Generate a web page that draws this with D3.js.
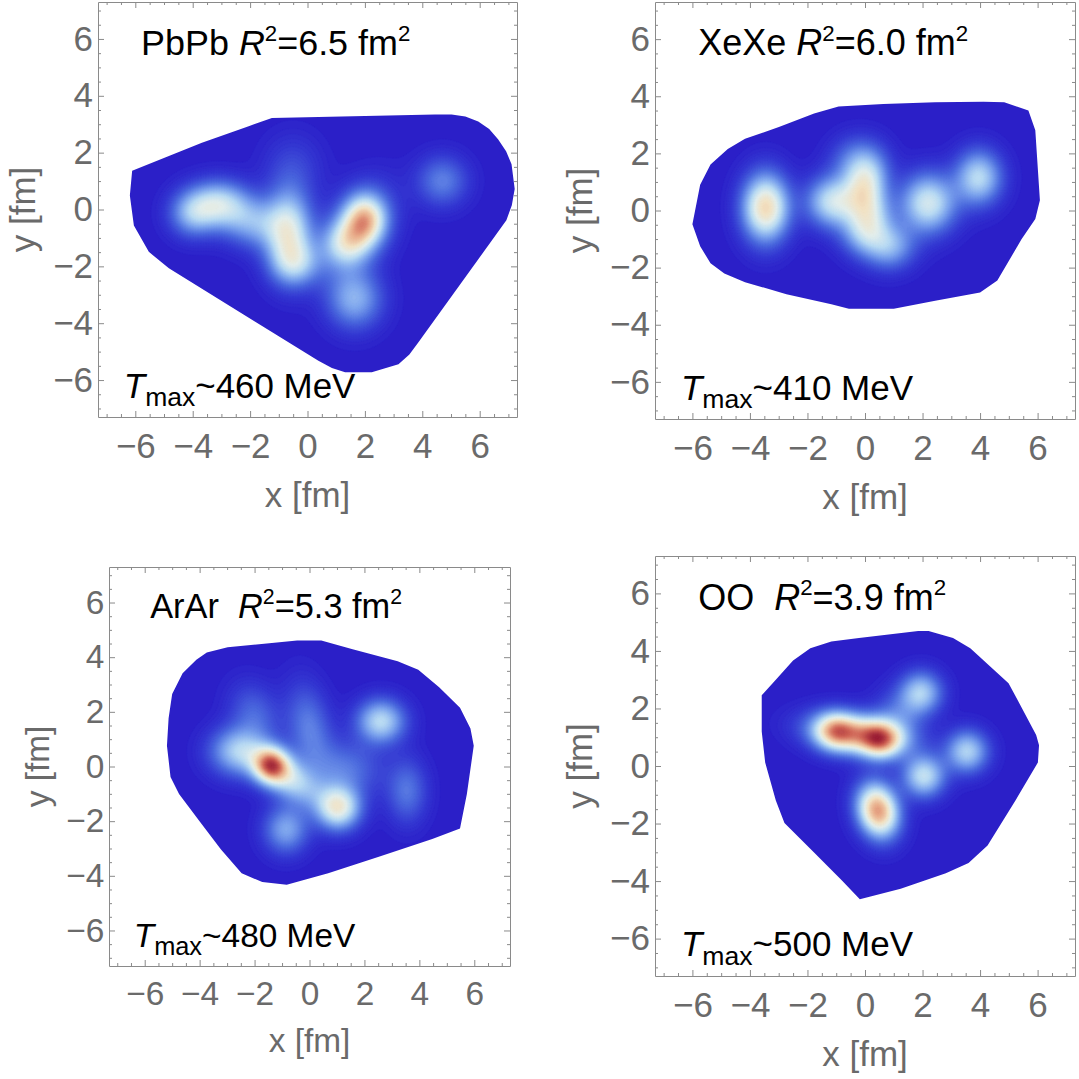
<!DOCTYPE html>
<html>
<head>
<meta charset="utf-8">
<script src="https://cdn.jsdelivr.net/npm/d3@7"></script>
<style>
  body { margin: 0; background: #fff; }
  svg { display: block; font-family: "Liberation Sans", Arial, sans-serif; }
  text { white-space: pre; }
</style>
</head>
<body>
<div id="chart"></div>
<script>
// hot spots, one row each: [x, y, sigmaX, sigmaY, angle (deg), amplitude], fm
const pbpbSpots = [
  [2.0, -0.35, 0.5, 0.6, 0, 0.5],
  [1.35, -1.2, 0.55, 0.55, 0, 0.3],
  [1.7, -0.75, 1.1, 0.7, 60, 0.25],
  [-0.65, -0.75, 0.55, 1.0, 0, 0.45],
  [-0.4, -1.9, 0.6, 0.55, 0, 0.28],
  [-3.1, 0.2, 0.7, 0.55, 0, 0.38],
  [-4.0, -0.15, 0.55, 0.55, 0, 0.28],
  [-1.9, -0.45, 0.8, 0.6, -15, 0.28],
  [1.65, -3.15, 0.65, 0.7, 0, 0.3],
  [4.7, 1.0, 0.6, 0.6, 0, 0.2],
  [-0.5, 1.5, 0.7, 0.8, 0, 0.08]
];
const xexeSpots = [
  [-3.45, 0.1, 0.55, 0.8, 0, 0.62],
  [-1.15, 0.3, 0.6, 0.6, 0, 0.42],
  [0.0, 0.85, 0.5, 0.75, -15, 0.42],
  [0.25, -0.1, 0.5, 0.6, 0, 0.26],
  [-0.05, -0.8, 0.55, 0.55, 0, 0.26],
  [0.85, -1.25, 0.6, 0.55, 0, 0.3],
  [-0.3, 1.7, 0.6, 0.6, 0, 0.2],
  [2.2, 0.25, 0.65, 0.7, 0, 0.46],
  [3.95, 1.15, 0.55, 0.65, 0, 0.4]
];
const ararSpots = [
  [-1.4, 0.05, 0.45, 0.45, 0, 0.58],
  [-0.8, -0.4, 0.95, 0.5, -35, 0.4],
  [-2.6, 0.55, 0.7, 0.6, 0, 0.35],
  [1.05, -1.5, 0.55, 0.55, 0, 0.52],
  [-0.85, -2.3, 0.55, 0.6, 0, 0.28],
  [2.6, 1.65, 0.6, 0.55, 0, 0.4],
  [3.55, -0.9, 0.5, 0.8, 0, 0.18],
  [0.0, 1.4, 0.55, 1.1, 10, 0.2],
  [-2.0, 1.9, 0.6, 0.8, 20, 0.15],
  [1.3, -0.1, 0.9, 0.7, 0, 0.18]
];
const ooSpots = [
  [0.55, 0.9, 0.5, 0.45, 0, 0.45],
  [-0.2, 1.1, 1.1, 0.47, -8, 0.6],
  [-1.05, 1.2, 0.5, 0.45, 0, 0.4],
  [0.45, -1.55, 0.48, 0.65, 15, 0.75],
  [2.05, -0.35, 0.5, 0.5, 0, 0.42],
  [3.55, 0.5, 0.5, 0.5, 0, 0.38],
  [1.95, 2.55, 0.5, 0.5, 0, 0.36],
  [1.2, 1.8, 0.6, 0.6, 0, 0.15]
];

// edge of the hot region, [x, y] in fm
const pbpbHull = [
  [-6.11, 1.36], [-6.19, 0.49], [-6.05, -0.56], [-5.53, -1.49], [-4.83, -2.07],
  [0.38, -5.32], [0.85, -5.58], [1.31, -5.73], [2.24, -5.73], [3.17, -5.44], [3.55, -5.1],
  [3.86, -4.68], [6.93, -0.38], [7.12, 0.15], [7.22, 0.72], [7.11, 1.59], [6.92, 2.05],
  [6.64, 2.47], [6.33, 2.83], [5.95, 3.10], [5.5, 3.27], [5.02, 3.34], [4.44, 3.34],
  [-1.24, 3.22], [-2.05, 2.93], [-3.68, 2.35], [-4.83, 1.88]
];
const xexeHull = [
  [-6.0, -0.48], [-5.73, 0.9], [-5.37, 1.61], [-4.77, 2.15], [-4.17, 2.51],
  [-2.97, 2.93], [-1.77, 3.40], [-0.92, 3.64], [0.64, 3.73], [2.44, 3.79],
  [4.12, 3.81], [4.84, 3.79], [5.68, 3.50], [5.92, 2.81], [6.08, 0.36],
  [5.92, -0.30], [5.44, -1.01], [4.60, -2.45], [4.0, -2.87], [2.44, -3.16],
  [1.0, -3.44], [-0.56, -3.44], [-1.17, -3.28], [-2.73, -2.93], [-4.17, -2.51],
  [-4.89, -2.21], [-5.37, -1.85], [-5.73, -1.25]
];
const ararHull = [
  [-5.13, 1.77], [-5.19, 0.76], [-5.06, -0.38], [-4.75, -1.01], [-3.99, -2.02],
  [-3.23, -3.03], [-2.47, -3.91], [-1.72, -4.23], [-0.83, -4.33], [0.68, -3.91],
  [2.58, -3.28], [4.47, -2.65], [5.48, -2.27], [5.73, -1.01], [5.98, 0.76],
  [5.86, 1.39], [5.48, 2.15], [4.72, 2.90], [3.96, 3.54], [3.21, 3.85],
  [1.57, 4.29], [0.43, 4.61], [-0.45, 4.61], [-2.98, 4.36], [-3.74, 4.17],
  [-4.12, 3.91], [-4.62, 3.41], [-5.0, 2.65]
];
const ooHull = [
  [-3.59, 2.46], [-3.59, 1.20], [-3.47, 0.12], [-3.10, -1.20], [-2.80, -1.98],
  [-1.78, -3.00], [-0.81, -3.97], [-0.18, -4.63], [1.24, -4.27], [2.81, -3.73],
  [3.60, -3.37], [4.26, -2.76], [5.23, -1.20], [6.01, 0.12], [6.05, 0.72],
  [5.95, 1.08], [4.99, 2.88], [3.66, 4.09], [3.06, 4.45], [2.21, 4.69],
  [1.85, 4.69], [-0.21, 4.45], [-1.17, 4.33], [-1.90, 4.09], [-2.50, 3.67], [-3.10, 3.0]
];

const systems = ["PbPb ", "XeXe ", "ArAr  ", "OO  "];
const radiusSq = ["6.5", "6.0", "5.3", "3.9"];
const tMax = ["460", "410", "480", "500"];

const majorTicks = [-6, -4, -2, 0, 2, 4, 6];
const xDomain = [-7.3, 7.3];
const yDomain = [-7.3, 7.3];

// colour ramp, value 0..1
const stopValues = [0, 0.06, 0.16, 0.28, 0.40, 0.50, 0.60, 0.72, 0.84, 1.0];
const stopColors = ["#2b1fc8", "#3438d2", "#4c6ade", "#7fa6ee", "#b8daf3",
                    "#e2eeec", "#f2e2c4", "#eab08e", "#cf6456", "#8c0a2c"];

// frame boxes on the page: [left, right, top, bottom]
const boxes = [
  [98, 517, 2, 417],
  [655, 1075, 2, 419],
  [109, 510, 567, 966],
  [655, 1075, 556, 976]
];

const panels = [
  { spots: pbpbSpots, hull: pbpbHull },
  { spots: xexeSpots, hull: xexeHull },
  { spots: ararSpots, hull: ararHull },
  { spots: ooSpots, hull: ooHull }
].map((p, i) => Object.assign(p, { name: systems[i], r2: radiusSq[i], t: tMax[i], box: boxes[i] }));

const W = 1079, H = 1079;
const axisGrey = "#6a6a6a";
const frameGrey = "#8a8a8a";

const svg = d3.select("#chart").append("svg")
    .attr("width", W)
    .attr("height", H);

svg.append("rect").attr("width", W).attr("height", H).attr("fill", "#fff");

const color = d3.scaleLinear()
    .domain(stopValues)
    .range(stopColors)
    .clamp(true);

const levels = d3.range(0, 1, 0.01);
const n = 260;

function field(spots, px, py) {
    let v = 0;
    spots.forEach(s => {
        const a = s[4] * Math.PI / 180;
        const dx = px - s[0], dy = py - s[1];
        const u = dx * Math.cos(a) + dy * Math.sin(a);
        const w = -dx * Math.sin(a) + dy * Math.cos(a);
        v += s[5] * Math.exp(-(u * u / (2 * s[2] * s[2]) + w * w / (2 * s[3] * s[3])));
    });
    return v;
}

panels.forEach((p, idx) => {

    const x = d3.scaleLinear().domain(xDomain).range([p.box[0], p.box[1]]);
    const y = d3.scaleLinear().domain(yDomain).range([p.box[3], p.box[2]]);
    const k = (p.box[1] - p.box[0]) / 420;   // font scale for smaller panel

    const g = svg.append("g");

    // temperature grid
    const sx = (xDomain[1] - xDomain[0]) / n;
    const sy = (yDomain[1] - yDomain[0]) / n;
    const values = new Float64Array(n * n);
    for (let j = 0; j < n; j++) {
        for (let i = 0; i < n; i++) {
            values[j * n + i] = field(p.spots, xDomain[0] + (i + 0.5) * sx, yDomain[1] - (j + 0.5) * sy);
        }
    }
    const bands = d3.contours().size([n, n]).thresholds(levels)(values);

    const proj = d3.geoTransform({
        point: function (gx, gy) {
            this.stream.point(x(xDomain[0] + gx * sx), y(yDomain[1] - gy * sy));
        }
    });
    const path = d3.geoPath(proj);

    const hullLine = d3.line()
        .x(d => x(d[0]))
        .y(d => y(d[1]))
        .curve(d3.curveLinearClosed);

    const clipId = "hull" + idx;
    svg.append("clipPath").attr("id", clipId)
        .append("path")
        .attr("d", hullLine(p.hull));

    g.append("g")
        .attr("clip-path", "url(#" + clipId + ")")
        .selectAll("path")
        .data(bands)
        .join("path")
        .attr("d", path)
        .attr("fill", d => color(d.value === 0 ? 0 : d.value + 0.005))
        .attr("stroke", d => color(d.value === 0 ? 0 : d.value + 0.005))
        .attr("stroke-width", 0.5);

    // frame with inward ticks on all sides
    const minorTicks = d3.range(-7, 7.01, 0.5).filter(v => majorTicks.indexOf(v) < 0);
    const sides = [
        { ax: d3.axisBottom(x), t: "translate(0," + p.box[3] + ")", labels: true, pad: 16 },
        { ax: d3.axisTop(x), t: "translate(0," + p.box[2] + ")", labels: false, pad: 5 },
        { ax: d3.axisLeft(y), t: "translate(" + p.box[0] + ",0)", labels: true, pad: 5 },
        { ax: d3.axisRight(y), t: "translate(" + p.box[1] + ",0)", labels: false, pad: 5 }
    ];
    sides.forEach(s => {
        const minor = g.append("g").attr("transform", s.t)
            .call(s.ax.tickValues(minorTicks).tickFormat("").tickSizeInner(-3).tickSizeOuter(0));
        minor.select(".domain").remove();
        minor.selectAll("line").attr("stroke", frameGrey);

        const major = g.append("g").attr("transform", s.t)
            .call(s.ax.tickValues(majorTicks)
                .tickFormat(s.labels ? d3.format("") : "")
                .tickSizeInner(-6).tickSizeOuter(0)
                .tickPadding(s.pad * k));
        major.select(".domain").attr("stroke", frameGrey);
        major.selectAll("line").attr("stroke", frameGrey);
        major.selectAll("text")
            .attr("fill", axisGrey)
            .attr("font-size", 35 * k)
            .attr("font-family", "Liberation Sans, Arial, sans-serif");
    });

    // axis titles
    g.append("text")
        .attr("x", x(0))
        .attr("y", p.box[3] + 90 * k)
        .attr("text-anchor", "middle")
        .attr("fill", axisGrey)
        .attr("font-size", 35 * k)
        .text("x [fm]");

    g.append("text")
        .attr("transform", "translate(" + (p.box[0] - 63 * k) + "," + y(0) + ") rotate(-90)")
        .attr("text-anchor", "middle")
        .attr("fill", axisGrey)
        .attr("font-size", 35 * k)
        .text("y [fm]");

    // system label with R^2
    const fs = 36 * k;
    const title = g.append("text")
        .attr("x", x(-5.8))
        .attr("y", y(5.43))
        .attr("font-size", fs)
        .attr("fill", "#000");
    title.append("tspan").text(p.name);
    title.append("tspan").attr("font-style", "italic").text("R");
    title.append("tspan").attr("font-size", fs * 0.62).attr("dy", -0.4 * fs).text("2");
    title.append("tspan").attr("dy", 0.4 * fs).text("=" + p.r2 + " fm");
    title.append("tspan").attr("font-size", fs * 0.62).attr("dy", -0.4 * fs).text("2");

    // max temperature
    const ft = 35 * k;
    const tl = g.append("text")
        .attr("x", x(-6.4))
        .attr("y", y(-6.62))
        .attr("font-size", ft)
        .attr("fill", "#000");
    tl.append("tspan").attr("font-style", "italic").text("T");
    tl.append("tspan").attr("font-size", ft * 0.76).attr("dy", 0.24 * ft).text("max");
    tl.append("tspan").attr("dy", -0.24 * ft).text("~" + p.t + " MeV");
});
</script>
</body>
</html>
